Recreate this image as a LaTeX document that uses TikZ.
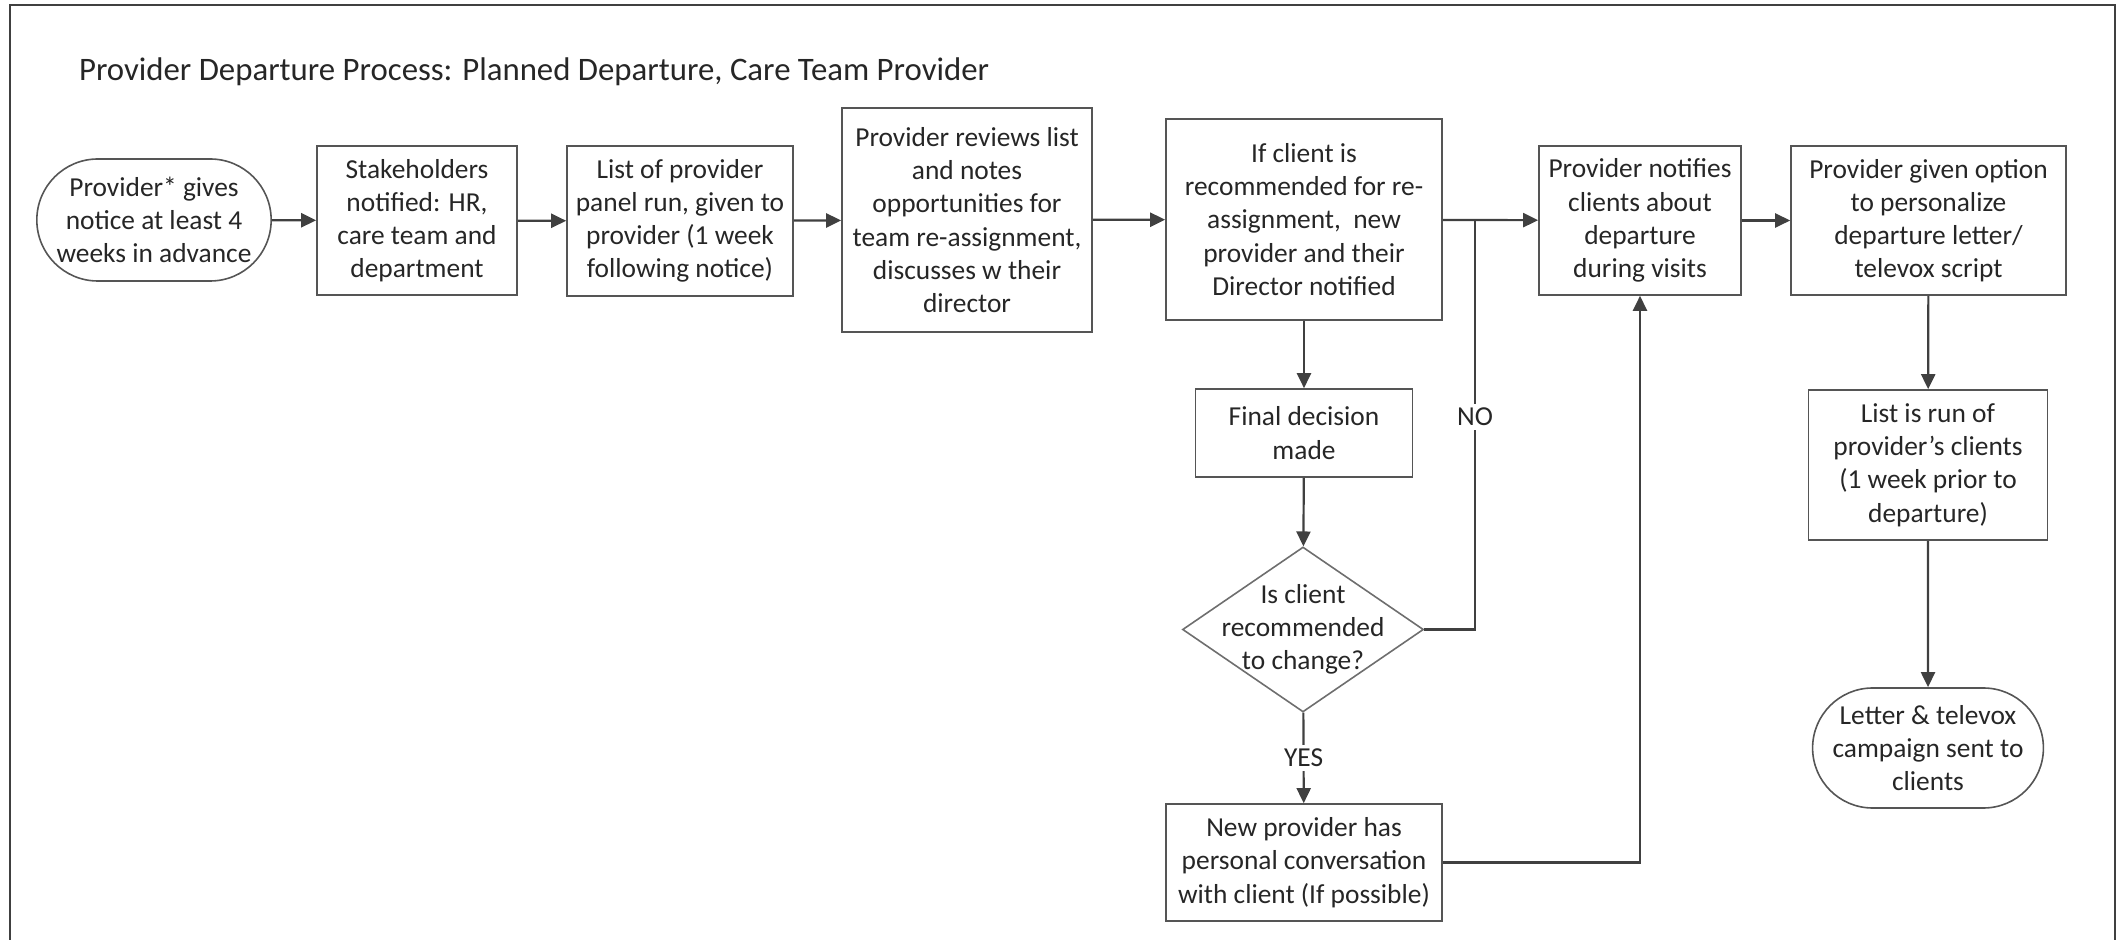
\documentclass[tikz,border=0pt]{standalone}
\usepackage{fontspec}
\setmainfont{Carlito}
\usetikzlibrary{shapes.geometric,shapes.misc,arrows.meta}

\definecolor{linegray}{HTML}{404040}
\definecolor{boxgray}{HTML}{555555}
\definecolor{txtgray}{HTML}{262626}

\begin{document}
\begin{tikzpicture}[x=0.5pt,y=-0.5pt,
        >={Triangle[length=7.5pt,width=7pt]},
        every node/.style={font=\fontsize{13.7}{16.6}\selectfont, text=txtgray},
        proc/.style={draw=boxgray, line width=0.8pt, rectangle, align=center, inner sep=1.5pt},
        term/.style={draw=boxgray, line width=0.8pt, rounded rectangle, align=center, inner sep=1pt},
        decide/.style={draw=boxgray!85, line width=0.8pt, diamond, inner sep=0pt},
        conn/.style={draw=linegray, line width=1.1pt},
        flow/.style={conn, ->},
        tag/.style={fill=white, inner sep=2pt}]
        %\draw[step=100,gray,very thin] (0,0) grid (2121,940);
        \useasboundingbox (0,0) rectangle (2121,940);

        % Frame and title
        \draw[draw=linegray, line width=0.8pt] (10,940) -- (10,5) -- (2115,5) -- (2115,940);
        \node[anchor=base west, font=\fontsize{16.4}{19}\selectfont] (title) at (72,81)
            {Provider Departure Process: Planned Departure, Care Team Provider};

        % Top row
        \node[term, minimum width=112.5pt, minimum height=61pt] (start) at (154,220)
            {Provider* gives\\notice at least 4\\weeks in advance};
        \node[proc, minimum width=100pt, minimum height=74.5pt] (stake) at (417,220.5)
            {Stakeholders\\notified: HR,\\care team and\\department};
        \node[proc, minimum width=113pt, minimum height=75pt] (panel) at (680,221)
            {List of provider\\panel run, given to\\provider (1 week\\following notice)};
        \node[proc, minimum width=125pt, minimum height=112pt] (review) at (967,220)
            {Provider reviews list\\and notes\\opportunities for\\team re-assignment,\\discusses w their\\director};
        \node[proc, minimum width=138pt, minimum height=100.5pt] (ifcl) at (1304,219.5)
            {If client is\\recommended for re-\\assignment,\ \ new\\provider and their\\Director notified};
        \node[proc, minimum width=101pt, minimum height=74.5pt] (notify) at (1640,220.5)
            {Provider notifies\\clients about\\departure\\during visits};
        \node[proc, minimum width=137.5pt, minimum height=74.5pt] (given) at (1928.5,220.5)
            {Provider given option\\to personalize\\departure letter/\\televox script};

        % Decision column
        \node[proc, minimum width=108.5pt, minimum height=44pt] (final) at (1304,433)
            {Final decision\\made};
        \node[decide, minimum width=120.5pt, minimum height=82.5pt] (dec) at (1303,629.5) {};
        \node[align=center] (dectext) at (dec.center) {Is client\\recommended\\to change?};
        \node[proc, minimum width=138pt, minimum height=58.5pt, inner xsep=0pt] (newprov) at (1304,862.5)
            {New provider has\\personal conversation\\with client (If possible)};
        \coordinate (nojoin) at (1475,220);

        % Right column
        \node[proc, minimum width=119.5pt, minimum height=75pt] (listrun) at (1928,465)
            {List is run of\\provider’s clients\\(1 week prior to\\departure)};
        \node[term, minimum width=113pt, minimum height=60pt] (letter) at (1928,748)
            {Letter \& televox\\campaign sent to\\clients};

        % Connectors
        \draw[flow] (start) -- (stake);
        \draw[flow] (stake) -- (panel);
        \draw[flow] (panel) -- (review);
        \draw[flow] (review) -- (ifcl);
        \draw[flow] (ifcl) -- (notify);
        \draw[flow] (notify) -- (given);
        \draw[flow] (ifcl) -- (final);
        \draw[flow] (final) -- (dec);
        \draw[conn] (dec.east) -| node[tag, pos=0.76] (notag) {NO} (nojoin);
        \draw[flow] (dec) -- node[tag] (yestag) {YES} (newprov);
        \draw[flow] (newprov.east) -| (notify.south);
        \draw[flow] (given) -- (listrun);
        \draw[flow] (listrun) -- (letter);
\end{tikzpicture}
\end{document}
